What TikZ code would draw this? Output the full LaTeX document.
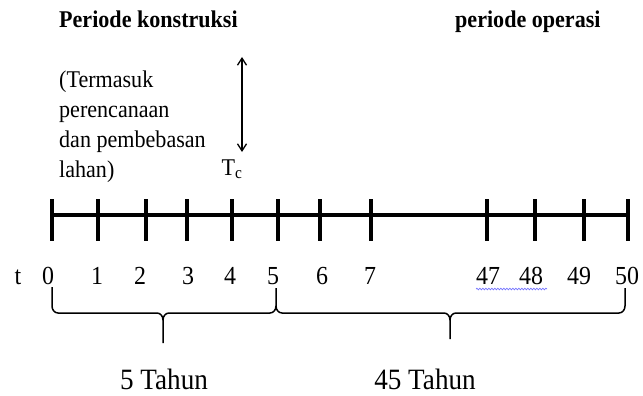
\documentclass[tikz,border=0pt]{standalone}
\usepackage{fontspec}
\setmainfont[FakeStretch=0.92]{Liberation Serif}
\usetikzlibrary{arrows.meta,decorations.pathmorphing}
\tikzset{
  axisline/.style={line width=4pt},
  tickmark/.style={line width=3.5pt},
  num/.style={font=\fontsize{26}{26}\selectfont, anchor=base, inner sep=0pt},
  heading/.style={font=\bfseries\fontsize{24}{28}\selectfont, anchor=base west, inner sep=0pt},
  brace/.style={line width=1.5pt},
  period/.style={font=\fontsize{29.5}{30}\selectfont, anchor=base, inner sep=0pt}
}
\begin{document}
\begin{tikzpicture}[x=1pt,y=-1pt]
  \useasboundingbox (0,0) rectangle (643,396);
  % headings
  \node[heading] (konstr) at (59,28) {Periode konstruksi};
  \node[heading] (operasi) at (455,28) {periode operasi};
  % base of a multi-line node sits on its last line
  \node[font=\fontsize{24}{29.7}\selectfont, align=left, anchor=base west, inner sep=0pt]
    (catatan) at (59,177) {(Termasuk\\perencanaan\\dan pembebasan\\lahan)};
  % T_c marker
  \coordinate (tcTop) at (242,57);
  \coordinate (tcBot) at (242,152);
  \draw[line width=1.3pt, {Straight Barb[length=7pt,width=9pt]}-{Straight Barb[length=7pt,width=9pt]}] (tcTop) -- (tcBot);
  \node[font=\fontsize{24}{24}\selectfont, anchor=base, inner sep=0pt] (tc) at (232,175) {T\textsubscript{c}};
  % time axis
  \draw[axisline] (52,215) -- (628,215);
  \foreach \x in {52,98,146,187,232,278,320,371,487,535,584,628}
    \draw[tickmark] (\x,199) -- (\x,241);
  \node[num] (t) at (18,284) {t};
  \foreach \n/\x in {0/48,1/97,2/140,3/188,4/230,5/273,6/322,7/370,47/488,48/531,49/579,50/627}
    \node[num] (n\n) at (\x,284) {\n};
  \draw[blue!55, line width=0.7pt, decorate, decoration={snake, amplitude=0.8pt, segment length=3pt}]
    (476,289) -- (547,289);
  % braces
  \draw[brace] (52,287) -- (52,306) to[out=-90,in=180] (58,313) -- (157,313)
    to[out=0,in=90] (163,320) -- (163,343);
  \draw[brace] (163,320) to[out=90,in=180] (169,313) -- (270,313)
    to[out=0,in=-90] (276,306) -- (276,288);
  \draw[brace] (276,306) to[out=-90,in=180] (282,313) -- (444,313)
    to[out=0,in=90] (450,320) -- (450,339);
  \draw[brace] (450,320) to[out=90,in=180] (456,313) -- (619,313)
    to[out=0,in=-90] (625,306) -- (625,288);
  \node[period] (lima) at (164,389) {5 Tahun};
  \node[period] (empat) at (425,389) {45 Tahun};
\end{tikzpicture}
\end{document}
